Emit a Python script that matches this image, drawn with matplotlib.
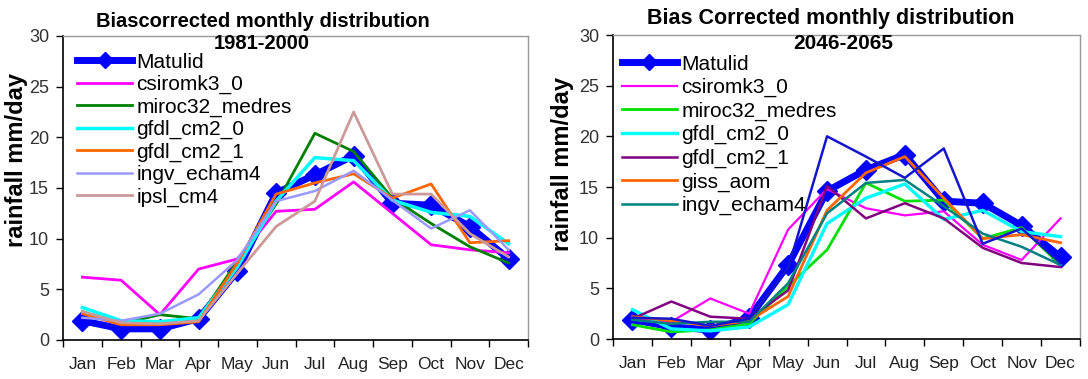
import matplotlib
matplotlib.use("Agg")
import matplotlib.pyplot as plt
from matplotlib import font_manager

months = ["Jan", "Feb", "Mar", "Apr", "May", "Jun", "Jul", "Aug", "Sep", "Oct", "Nov", "Dec"]

# ---- 1981-2000 (left panel) ----
left_matulid = [1.9, 1.1, 1.1, 2.1, 6.8, 14.5, 16.3, 18.2, 13.5, 13.3, 11.2, 8.0]
left_csiromk3_0 = [6.2, 5.9, 2.5, 7.0, 8.0, 12.7, 12.9, 15.6, 12.5, 9.4, 8.9, 8.6]
left_miroc32_medres = [2.8, 1.6, 2.5, 2.1, 7.8, 13.4, 20.4, 18.6, 14.0, 11.5, 9.2, 7.6]
left_gfdl_cm2_0 = [3.2, 1.9, 1.8, 2.2, 7.2, 13.7, 18.0, 17.7, 13.8, 12.6, 12.2, 9.5]
left_gfdl_cm2_1 = [2.6, 1.5, 1.5, 1.8, 7.6, 14.4, 15.5, 16.4, 14.0, 15.4, 9.6, 9.8]
left_ingv_echam4 = [2.2, 1.9, 2.6, 4.5, 7.9, 13.7, 14.7, 16.7, 13.8, 11.0, 12.8, 8.9]
left_ipsl_cm4 = [2.8, 1.7, 1.6, 1.9, 6.6, 11.2, 13.7, 22.5, 14.4, 14.4, 10.5, 8.2]

# ---- 2046-2065 (right panel) ----
right_matulid = [1.9, 1.2, 0.9, 2.1, 7.3, 14.6, 16.7, 18.2, 13.6, 13.4, 11.2, 8.1]
right_csiromk3_0 = [2.0, 1.7, 4.0, 2.5, 10.8, 14.8, 12.9, 12.2, 12.6, 9.3, 7.8, 11.9]
right_miroc32_medres = [1.4, 0.7, 0.9, 1.5, 5.2, 8.8, 15.4, 13.6, 13.7, 9.9, 11.0, 7.3]
right_gfdl_cm2_0 = [2.9, 1.0, 0.8, 1.2, 3.4, 11.4, 13.9, 15.3, 11.8, 12.7, 10.6, 10.1]
right_gfdl_cm2_1 = [2.0, 3.7, 2.2, 2.0, 4.8, 15.1, 11.9, 13.4, 11.9, 9.0, 7.5, 7.1]
right_giss_aom = [2.2, 1.8, 1.3, 1.8, 4.2, 12.7, 16.4, 18.0, 13.9, 9.9, 10.3, 9.5]
right_ingv_echam4 = [1.9, 1.5, 1.7, 1.7, 5.5, 12.4, 15.4, 15.7, 13.1, 10.4, 9.1, 7.3]
right_unlabelled_blue = [2.1, 2.0, 1.3, 2.0, 7.0, 20.0, 18.0, 15.9, 18.8, 9.4, 10.9, 7.5]

left_title = "Biascorrected monthly distribution"
left_period = "1981-2000"
right_title = "Bias Corrected monthly distribution"
right_period = "2046-2065"
ylabel_text = "rainfall mm/day"

names = {f.name for f in font_manager.fontManager.ttflist}
base_font = "Liberation Sans" if "Liberation Sans" in names else "DejaVu Sans"
plt.rcParams["font.family"] = [base_font, "DejaVu Sans"]

W, H = 1088, 379
fig = plt.figure(figsize=(W / 100, H / 100), dpi=100)
fig.patch.set_facecolor("white")

x = list(range(12))


def style_axes(ax):
    ax.set_xlim(-0.5, 11.5)
    ax.set_ylim(0, 30)
    ax.set_yticks([0, 5, 10, 15, 20, 25, 30])
    ax.tick_params(axis="y", direction="out", length=5, width=1, labelsize=13,
                   labelcolor="#333333", pad=5)
    ax.set_xticks([i - 0.5 for i in range(13)])
    ax.set_xticklabels([])
    ax.set_xticks(x, minor=True)
    ax.set_xticklabels(months, minor=True, fontsize=12.5, color="#222222")
    ax.tick_params(axis="x", which="major", direction="out", length=5, width=1)
    ax.tick_params(axis="x", which="minor", length=0, pad=12)
    for s in ["left", "bottom"]:
        ax.spines[s].set_color("black")
        ax.spines[s].set_linewidth(1.2)
    for s in ["top", "right"]:
        ax.spines[s].set_color("#999999")
        ax.spines[s].set_linewidth(1.0)


def add_legend(ax, xanchor, yanchor, spacing):
    handles, labels = ax.get_legend_handles_labels()
    idx = labels.index("Matulid")
    order = [idx] + [i for i in range(len(labels)) if i != idx]
    ax.legend([handles[i] for i in order], [labels[i] for i in order],
              loc="upper left", bbox_to_anchor=(xanchor, yanchor), frameon=False,
              fontsize=15, handlelength=2.65, handletextpad=0.2, labelspacing=spacing,
              borderaxespad=0.0, markerscale=0.8)


# Left panel
axL = fig.add_axes([63 / W, (H - 340) / H, (528 - 63) / W, (340 - 36) / H])
axL.plot(x, left_csiromk3_0, color="#FF00FF", lw=2, label="csiromk3_0", zorder=3)
axL.plot(x, left_miroc32_medres, color="#008000", lw=2, label="miroc32_medres", zorder=3)
axL.plot(x, left_gfdl_cm2_0, color="#00FFFF", lw=2.5, label="gfdl_cm2_0", zorder=3)
axL.plot(x, left_gfdl_cm2_1, color="#FF6600", lw=2, label="gfdl_cm2_1", zorder=3)
axL.plot(x, left_ingv_echam4, color="#9999FF", lw=1.8, label="ingv_echam4", zorder=3)
axL.plot(x, left_ipsl_cm4, color="#CC9999", lw=2, label="ipsl_cm4", zorder=3)
axL.plot(x, left_matulid, color="#0000FF", lw=5, marker="D", ms=10,
         label="Matulid", zorder=2)
style_axes(axL)
add_legend(axL, 0.012, 0.973, 0.16)
fig.text(263 / W, 1 - 27 / H, left_title, fontsize=14.5, fontweight="bold",
         ha="center", va="baseline")
fig.text(262 / W, 1 - 49 / H, left_period, fontsize=14.5, fontweight="bold",
         ha="center", va="baseline")
fig.text(17 / W, 1 - 160 / H, ylabel_text, fontsize=17, fontweight="bold",
         rotation=90, ha="center", va="center")

# Right panel
axR = fig.add_axes([613 / W, (H - 339) / H, (1080 - 613) / W, (339 - 35) / H])
axR.plot(x, right_csiromk3_0, color="#FF00FF", lw=1.6, label="csiromk3_0", zorder=3)
axR.plot(x, right_miroc32_medres, color="#00E000", lw=2, label="miroc32_medres", zorder=3)
axR.plot(x, right_gfdl_cm2_0, color="#00FFFF", lw=2.4, label="gfdl_cm2_0", zorder=3)
axR.plot(x, right_gfdl_cm2_1, color="#800080", lw=1.8, label="gfdl_cm2_1", zorder=3)
axR.plot(x, right_giss_aom, color="#FF6600", lw=2, label="giss_aom", zorder=3)
axR.plot(x, right_ingv_echam4, color="#008080", lw=1.8, label="ingv_echam4", zorder=3)
axR.plot(x, right_unlabelled_blue, color="#1515CC", lw=1.8, label="_nolegend_", zorder=3)
axR.plot(x, right_matulid, color="#0000FF", lw=5, marker="D", ms=10,
         label="Matulid", zorder=2)
style_axes(axR)
add_legend(axR, 0.001, 0.963, 0.21)
fig.text(831 / W, 1 - 24 / H, right_title, fontsize=15.5, fontweight="bold",
         ha="center", va="baseline")
fig.text(843 / W, 1 - 49 / H, right_period, fontsize=15, fontweight="bold",
         ha="center", va="baseline")
fig.text(563 / W, 1 - 164 / H, ylabel_text, fontsize=17, fontweight="bold",
         rotation=90, ha="center", va="center")

fig.savefig("out.png", dpi=100, facecolor="white")
